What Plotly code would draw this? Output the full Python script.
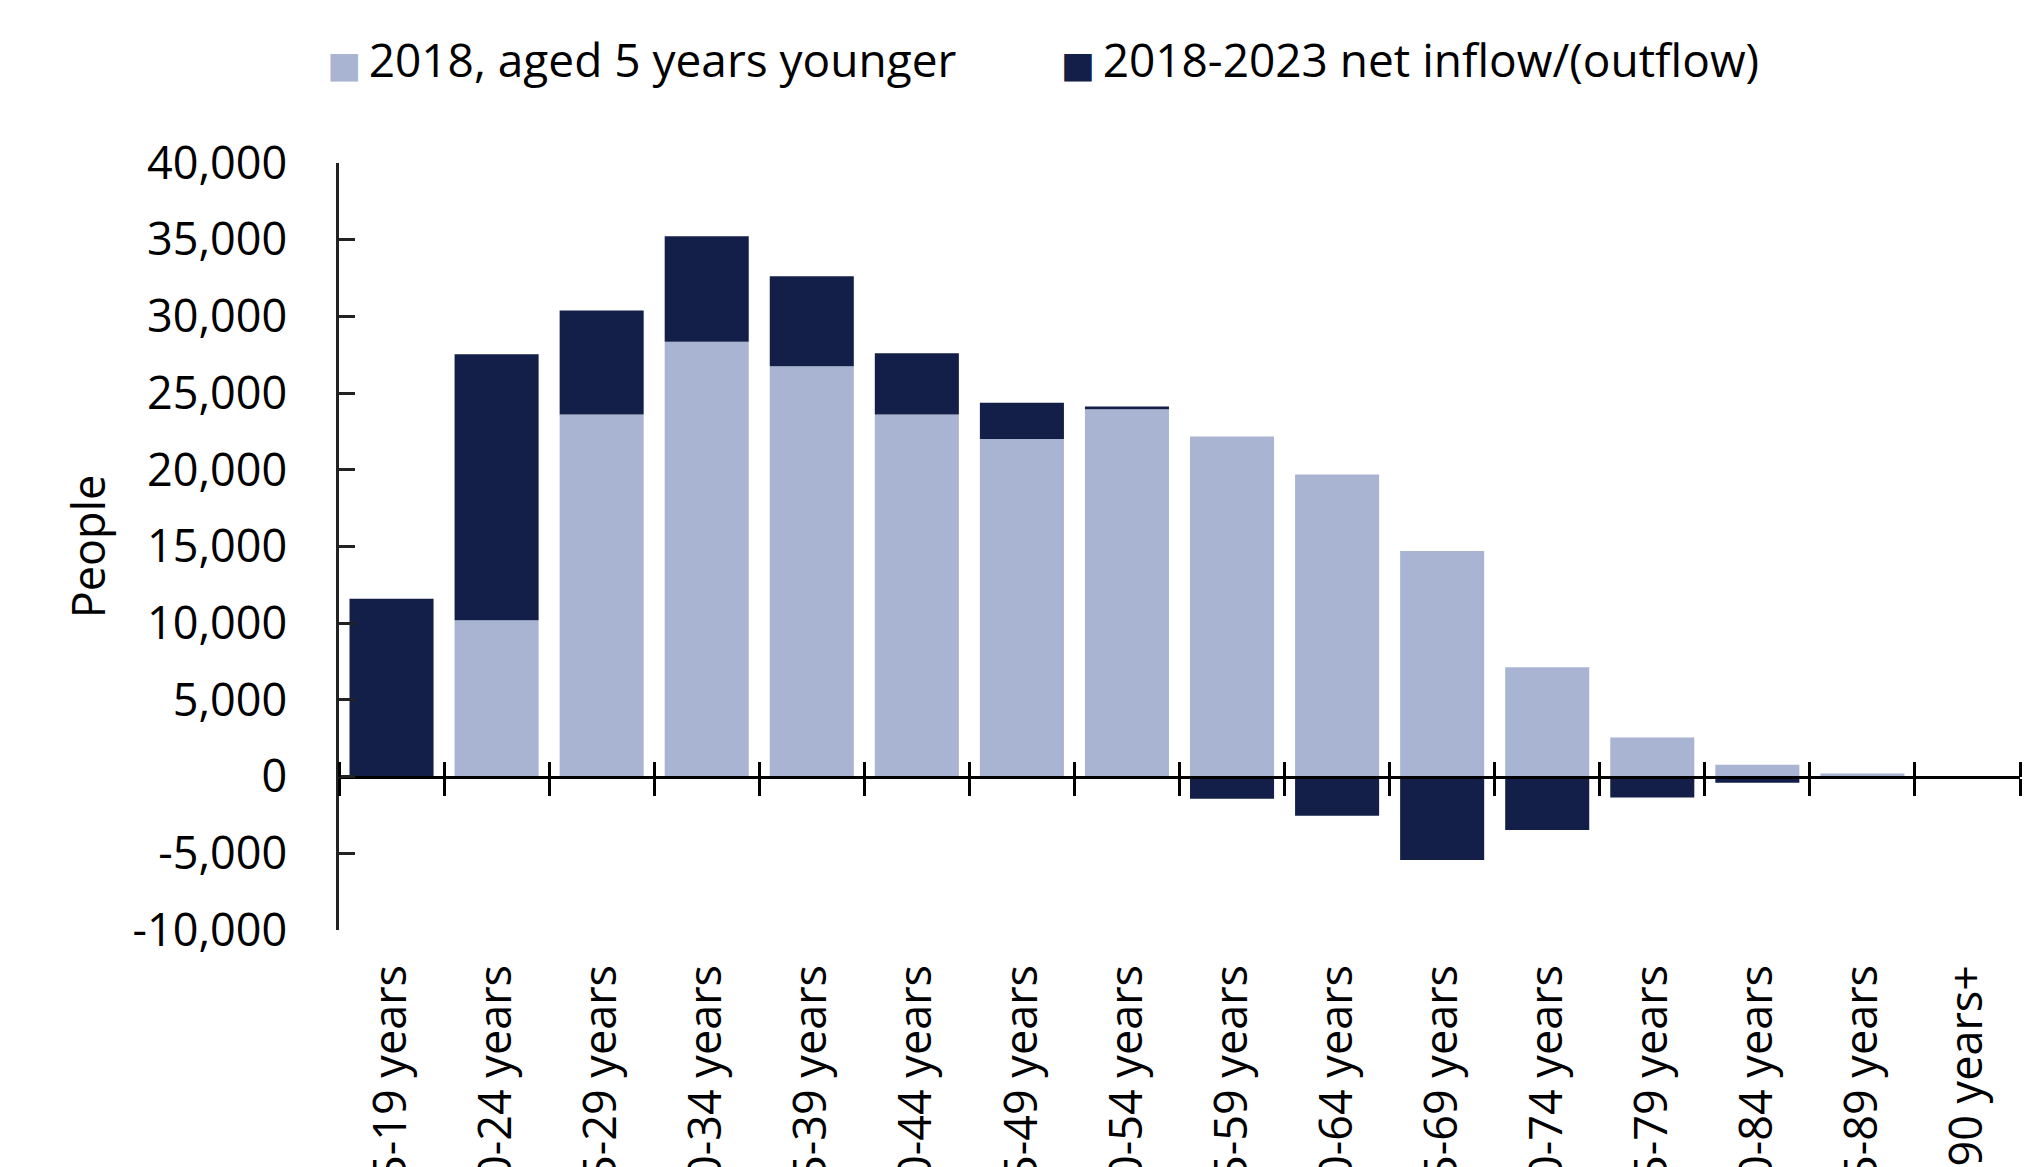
import plotly.graph_objects as go

categories = ["15-19 years", "20-24 years", "25-29 years", "30-34 years", "35-39 years",
              "40-44 years", "45-49 years", "50-54 years", "55-59 years", "60-64 years",
              "65-69 years", "70-74 years", "75-79 years", "80-84 years", "85-89 years",
              "90 years+"]
aged_2018 = [0, 10200, 23600, 28350, 26750, 23600, 22000, 23950, 22170, 19700,
             14700, 7130, 2550, 780, 200, 0]
net_flow = [11600, 17330, 6790, 6870, 5860, 4000, 2370, 170, -1440, -2550,
            -5440, -3480, -1360, -400, -50, 0]
y_ticks = [-10000, -5000, 0, 5000, 10000, 15000, 20000, 25000, 30000, 35000, 40000]
y_tick_labels = ["-10,000", "-5,000", "0", "5,000", "10,000", "15,000", "20,000",
                 "25,000", "30,000", "35,000", "40,000"]

LIGHT = "#A9B4D3"
DARK = "#131F48"
FONT = "Open Sans"
FS = 45

fig = go.Figure()
fig.add_trace(go.Bar(x=categories, y=aged_2018, name="2018, aged 5 years younger",
                     marker=dict(color=LIGHT, line=dict(width=0)), showlegend=False,
                     legendgroup="a"))
fig.add_trace(go.Bar(x=categories, y=net_flow, name="2018-2023 net inflow/(outflow)",
                     marker=dict(color=DARK, line=dict(width=0)), showlegend=False,
                     legendgroup="b"))

# legend entries with large square glyphs
sq = ("<span style='font-family:DejaVu Sans;font-size:36px;color:{c}'>■</span>"
      "<span style='font-size:30px'> </span>{t}")
fig.add_trace(go.Scatter(x=[None], y=[None], mode="lines", line=dict(width=0, color=LIGHT),
                         name=sq.format(c=LIGHT, t="2018, aged 5 years younger"),
                         legendgroup="a", legend="legend", hoverinfo="skip"))
fig.add_trace(go.Scatter(x=[None], y=[None], mode="lines", line=dict(width=0, color=DARK),
                         name=sq.format(c=DARK, t="2018-2023 net inflow/(outflow)"),
                         legendgroup="b", legend="legend2", hoverinfo="skip"))

# helper traces for the zero-line axes
for ax in ["x2", "x3"]:
    fig.add_trace(go.Scatter(x=categories, y=[None] * len(categories), xaxis=ax,
                             mode="lines", showlegend=False, hoverinfo="skip"))

legend_style = dict(orientation="h", y=1.135, xanchor="left", yanchor="middle",
                    font=dict(family=FONT, size=46, color="black"),
                    itemwidth=30, bgcolor="rgba(0,0,0,0)")

xr = [-0.5, len(categories) - 0.5]
fig.update_layout(
    width=2044, height=1167,
    margin=dict(l=331, r=32, t=155, b=245, autoexpand=False),
    paper_bgcolor="white", plot_bgcolor="white",
    barmode="relative", bargap=0.2,
    font=dict(family=FONT, size=FS, color="black"),
    showlegend=True,
    legend=dict(x=-0.031, **legend_style),
    legend2=dict(x=0.4056, **legend_style),
    xaxis=dict(type="category", categoryorder="array", categoryarray=categories, range=xr,
               showline=False, ticks="", showgrid=False, zeroline=False, automargin=False,
               tickangle=-90, tickfont=dict(family=FONT, size=FS, color="black"),
               ticklabelstandoff=25),
    xaxis2=dict(type="category", categoryorder="array", categoryarray=categories, range=xr,
                overlaying="x", anchor="free", position=0.2, side="bottom",
                showline=True, linecolor="black", linewidth=3, automargin=False,
                ticks="outside", ticklen=17, tickwidth=3, tickcolor="black",
                tickson="boundaries", showticklabels=False, showgrid=False, zeroline=False),
    xaxis3=dict(type="category", categoryorder="array", categoryarray=categories, range=xr,
                overlaying="x", anchor="free", position=0.2, side="top",
                showline=False, automargin=False,
                ticks="outside", ticklen=15, tickwidth=3, tickcolor="black",
                tickson="boundaries", showticklabels=False, showgrid=False, zeroline=False),
    yaxis=dict(range=[-10000, 40000], tickvals=y_ticks, ticktext=y_tick_labels,
               showline=True, linecolor="#222222", linewidth=2.5, automargin=False,
               ticks="inside", ticklen=16, tickwidth=2.5, tickcolor="#222222",
               showgrid=False, zeroline=False,
               tickfont=dict(family=FONT, size=FS, color="black"),
               ticklabelstandoff=40,
               title=dict(text="People", font=dict(family=FONT, size=FS, color="black"),
                          standoff=13)),
)

fig.write_html("out.html")
